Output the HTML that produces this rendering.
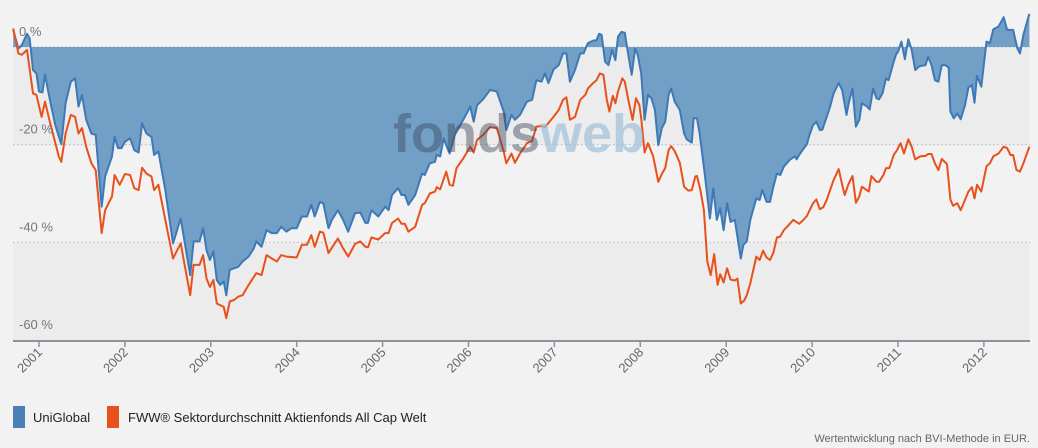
<!DOCTYPE html>
<html>
<head>
<meta charset="utf-8">
<style>
  html,body{margin:0;padding:0;background:#f2f2f2;}
  body{width:1038px;height:448px;overflow:hidden;font-family:"Liberation Sans",sans-serif;}
  svg{display:block;}
</style>
</head>
<body>
<svg id="chart" width="1038" height="448" viewBox="0 0 1038 448" xmlns="http://www.w3.org/2000/svg">
  <g id="bands">
    <rect x="13" y="47" width="1017" height="98" fill="#ececec"/>
    <rect x="13" y="145" width="1017" height="98" fill="#f2f2f2"/>
    <rect x="13" y="243" width="1017" height="97" fill="#ececec"/>
  </g>
  <g id="grid"></g>
  <g id="series"></g>
  <g id="watermark">
    <text x="393" y="152" font-family="Liberation Sans, sans-serif" font-weight="bold" font-size="54"><tspan fill="rgba(60,72,92,0.45)">fonds</tspan><tspan fill="rgba(160,192,220,0.7)">web</tspan></text>
  </g>
  <g id="yLabels"></g>
  <g id="xAxis"></g>
  <g id="legend">
    <rect x="13" y="406" width="12" height="22" fill="#4a7fb8"/>
    <text x="33" y="422" font-size="13" fill="#222">UniGlobal</text>
    <rect x="107" y="406" width="12" height="22" fill="#e8501c"/>
    <text x="128" y="422" font-size="13" fill="#222">FWW® Sektordurchschnitt Aktienfonds All Cap Welt</text>
  </g>
  <text x="1030" y="442" text-anchor="end" font-size="11" fill="#666">Wertentwicklung nach BVI-Methode in EUR.</text>
</svg>
<script>
const yTicks = [0, -20, -40, -60];
const yTickLabels = ["0 %", "-20 %", "-40 %", "-60 %"];
const xTickYears = [2001,2002,2003,2004,2005,2006,2007,2008,2009,2010,2011,2012];

const uniDates = [2000.70,2000.76,2000.80,2000.86,2000.89,2000.93,2000.97,2001.00,2001.04,2001.07,2001.12,2001.19,2001.26,2001.31,2001.37,2001.42,2001.46,2001.50,2001.55,2001.61,2001.66,2001.73,2001.77,2001.85,2001.88,2001.92,2001.96,2002.00,2002.06,2002.11,2002.16,2002.20,2002.25,2002.31,2002.34,2002.39,2002.47,2002.56,2002.65,2002.76,2002.80,2002.87,2002.91,2002.95,2002.99,2003.03,2003.07,2003.11,2003.15,2003.18,2003.22,2003.27,2003.32,2003.37,2003.44,2003.50,2003.53,2003.59,2003.65,2003.71,2003.77,2003.82,2003.88,2003.94,2004.00,2004.06,2004.12,2004.17,2004.21,2004.27,2004.31,2004.37,2004.41,2004.48,2004.54,2004.60,
2004.68,2004.74,2004.80,2004.83,2004.87,2004.95,2005.03,2005.07,2005.11,2005.18,2005.22,2005.26,2005.30,2005.38,2005.46,2005.49,2005.55,2005.61,2005.63,2005.67,2005.71,2005.78,2005.84,2005.94,2006.02,2006.06,2006.10,2006.17,2006.25,2006.33,2006.41,2006.44,2006.50,2006.54,2006.60,2006.68,2006.74,2006.79,2006.85,2006.89,2006.93,2006.99,2007.05,2007.10,2007.14,2007.18,2007.24,2007.30,2007.34,2007.39,2007.45,2007.49,2007.52,2007.55,2007.59,2007.63,2007.67,2007.71,2007.74,2007.78,2007.82,2007.86,2007.90,2007.94,2007.97,2008.01,2008.05,2008.09,2008.13,2008.17,2008.21,2008.25,2008.29,2008.33,2008.36,2008.40,2008.46,
2008.51,2008.54,2008.60,2008.62,2008.66,2008.69,2008.75,2008.81,2008.85,2008.89,2008.93,2008.97,2009.01,2009.05,2009.10,2009.17,2009.20,2009.24,2009.28,2009.35,2009.39,2009.42,2009.47,2009.51,2009.55,2009.59,2009.63,2009.67,2009.74,2009.80,2009.82,2009.86,2009.94,2009.97,2010.01,2010.05,2010.09,2010.12,2010.17,2010.21,2010.25,2010.31,2010.35,2010.40,2010.43,2010.47,2010.51,2010.55,2010.58,2010.64,2010.67,2010.71,2010.75,2010.78,2010.82,2010.86,2010.89,2010.95,2010.98,2011.00,2011.04,2011.08,2011.12,2011.16,2011.20,2011.25,2011.32,2011.35,2011.39,2011.43,2011.47,2011.51,2011.55,2011.59,2011.61,2011.65,2011.69,2011.73,2011.78,2011.82,2011.86,2011.89,2011.92,2011.97,2012.03,2012.07,2012.11,2012.17,2012.23,2012.27,2012.34,2012.39,2012.42,2012.46,2012.53];
const uniValues = [3.5,-0.3,0.4,2.7,1.8,-4.7,-5.4,-9.1,-9.3,-5.7,-10.2,-16.0,-19.9,-11.5,-7.1,-6.4,-12.2,-9.8,-14.9,-17.7,-18.0,-32.7,-26.5,-22.4,-18.4,-20.7,-20.7,-19.4,-18.7,-21.1,-21.6,-15.6,-17.7,-18.4,-22.1,-21.4,-29.3,-40.2,-35.1,-46.7,-39.8,-39.8,-37.1,-41.6,-43.6,-41.9,-47.7,-48.7,-48.0,-50.8,-45.6,-45.3,-45.0,-43.9,-42.9,-41.2,-39.8,-40.9,-37.5,-38.1,-38.1,-36.8,-37.8,-37.1,-37.1,-34.7,-34.7,-32.3,-34.7,-31.7,-32.0,-37.1,-35.4,-33.4,-35.4,-37.8,
-34.0,-33.9,-36.0,-36.0,-33.4,-34.7,-32.7,-33.4,-30.3,-28.9,-30.3,-30.3,-32.3,-30.3,-25.9,-26.2,-23.8,-23.5,-22.1,-22.4,-18.7,-21.8,-18.0,-14.9,-12.2,-15.3,-11.9,-10.7,-8.8,-9.1,-13.2,-17.0,-13.9,-14.9,-13.9,-11.2,-10.8,-6.8,-7.1,-5.4,-7.4,-4.6,-3.7,-1.3,-1.3,-7.1,-4.7,-1.3,-1.3,0.8,1.3,1.4,2.7,2.5,-3.0,-3.7,-0.6,-2.7,2.1,3.1,2.9,-1.6,-5.7,-0.3,-1.6,-5.4,-14.9,-9.8,-10.5,-12.9,-20.1,-16.6,-15.3,-9.8,-8.5,-11.2,-12.9,
-17.7,-18.9,-19.6,-14.6,-14.6,-17.7,-25.9,-35.1,-28.9,-35.4,-33.0,-37.5,-32.0,-35.8,-35.4,-43.3,-40.5,-39.8,-35.4,-31.0,-31.3,-29.3,-31.7,-31.7,-28.6,-25.9,-26.2,-24.5,-23.1,-22.4,-23.0,-21.8,-19.9,-18.0,-16.0,-15.3,-17.0,-16.9,-14.3,-12.2,-9.5,-7.4,-8.8,-13.9,-11.2,-8.5,-16.3,-14.9,-11.5,-12.2,-12.8,-8.5,-10.5,-10.7,-9.5,-6.4,-6.8,-3.0,-1.4,-1.0,1.1,-2.5,1.6,-0.6,-4.7,-3.9,-3.7,-2.0,-3.7,-6.8,-7.1,-3.7,-3.7,-4.2,-13.2,-14.6,-13.6,-14.8,-11.9,-8.3,-7.8,-11.4,-5.9,-8.1,1.1,0.8,3.6,4.2,6.1,3.5,3.5,-0.3,-1.3,2.5,6.8];

const sectorDates = [2000.70,2000.76,2000.80,2000.86,2000.93,2000.97,2001.03,2001.07,2001.13,2001.23,2001.26,2001.31,2001.37,2001.42,2001.46,2001.50,2001.55,2001.61,2001.66,2001.73,2001.77,2001.85,2001.88,2001.94,2002.00,2002.06,2002.11,2002.16,2002.20,2002.25,2002.31,2002.34,2002.39,2002.47,2002.56,2002.65,2002.76,2002.80,2002.87,2002.91,2002.95,2002.99,2003.03,2003.07,2003.15,2003.18,2003.22,2003.27,2003.32,2003.37,2003.44,2003.53,2003.59,2003.65,2003.71,2003.77,2003.82,2003.88,2004.00,2004.06,2004.12,2004.17,2004.21,2004.27,2004.31,2004.37,2004.48,2004.54,2004.60,
2004.68,2004.74,2004.80,2004.83,2004.87,2004.95,2005.03,2005.07,2005.11,2005.18,2005.22,2005.26,2005.30,2005.38,2005.46,2005.49,2005.55,2005.61,2005.63,2005.67,2005.74,2005.78,2005.82,2005.86,2005.94,2006.02,2006.06,2006.10,2006.17,2006.25,2006.33,2006.41,2006.44,2006.50,2006.54,2006.60,2006.68,2006.74,2006.79,2006.85,2006.89,2006.99,2007.05,2007.10,2007.14,2007.18,2007.24,2007.30,2007.36,2007.39,2007.45,2007.49,2007.53,2007.57,2007.61,2007.64,2007.68,2007.71,2007.74,2007.79,2007.82,2007.86,2007.91,2007.95,2007.99,2008.01,2008.05,2008.09,2008.15,2008.21,2008.25,2008.29,2008.33,2008.36,2008.40,2008.46,
2008.51,2008.56,2008.60,2008.64,2008.66,2008.70,2008.74,2008.78,2008.82,2008.86,2008.90,2008.93,2008.97,2009.01,2009.05,2009.10,2009.13,2009.17,2009.21,2009.24,2009.28,2009.35,2009.39,2009.43,2009.47,2009.51,2009.55,2009.59,2009.63,2009.67,2009.72,2009.78,2009.85,2009.90,2009.94,2009.97,2010.01,2010.05,2010.09,2010.13,2010.17,2010.21,2010.25,2010.31,2010.35,2010.38,2010.42,2010.47,2010.51,2010.55,2010.58,2010.66,2010.69,2010.75,2010.78,2010.83,2010.86,2010.90,2010.95,2010.99,2011.03,2011.07,2011.12,2011.16,2011.20,2011.26,2011.32,2011.35,2011.39,2011.43,2011.47,2011.51,2011.57,2011.61,2011.64,2011.69,2011.73,2011.78,2011.82,2011.86,2011.89,2011.92,2011.97,2012.03,2012.07,2012.11,2012.17,2012.23,2012.27,2012.31,2012.34,2012.38,2012.42,2012.46,2012.53];
const sectorValues = [3.8,-1.3,-1.6,-0.6,-9.5,-9.8,-14.3,-11.2,-15.6,-22.4,-23.5,-17.7,-13.9,-14.3,-17.7,-16.6,-20.4,-23.8,-25.2,-38.1,-33.4,-30.6,-26.2,-28.2,-26.0,-26.2,-28.9,-29.3,-24.7,-25.9,-26.5,-29.3,-28.2,-35.4,-43.3,-40.2,-50.8,-44.6,-44.6,-42.6,-47.4,-49.1,-47.7,-52.5,-53.2,-55.5,-52.1,-51.8,-51.1,-50.8,-48.7,-46.3,-46.7,-42.6,-43.3,-43.9,-42.6,-42.9,-43.1,-40.5,-40.5,-38.5,-40.9,-37.8,-38.0,-42.2,-39.2,-41.2,-42.9,
-40.3,-39.8,-40.9,-41.0,-39.0,-39.4,-38.1,-38.1,-36.0,-35.1,-36.2,-36.2,-37.8,-36.8,-32.3,-32.0,-30.0,-29.6,-28.7,-29.1,-25.5,-28.2,-28.4,-24.8,-22.8,-20.4,-21.6,-19.0,-18.0,-16.4,-16.6,-21.4,-23.8,-21.8,-23.7,-21.8,-19.7,-19.2,-16.3,-16.2,-16.4,-14.3,-12.9,-10.8,-10.3,-14.9,-14.3,-10.8,-9.8,-8.5,-7.4,-6.8,-5.4,-5.7,-10.8,-13.2,-10.0,-11.5,-9.1,-6.4,-7.1,-10.8,-14.9,-10.5,-11.9,-14.6,-21.6,-19.7,-22.4,-27.6,-26.0,-24.8,-21.1,-20.3,-21.3,-23.7,
-28.6,-29.4,-29.3,-26.5,-26.4,-29.3,-33.4,-43.9,-46.7,-42.4,-48.7,-46.5,-48.2,-45.3,-47.6,-47.8,-47.4,-52.5,-51.9,-50.8,-48.4,-42.9,-43.6,-41.7,-43.1,-43.6,-42.1,-39.0,-38.8,-37.5,-36.6,-35.4,-36.2,-35.4,-34.6,-33.5,-32.0,-31.2,-33.2,-32.8,-31.3,-29.3,-27.2,-25.0,-28.2,-30.3,-28.2,-26.4,-31.9,-30.6,-28.6,-29.6,-26.4,-27.6,-27.6,-26.2,-24.8,-24.8,-22.1,-21.1,-19.7,-21.8,-18.9,-20.4,-23.0,-22.4,-22.3,-21.9,-21.9,-23.8,-25.2,-22.9,-24.0,-31.2,-32.5,-32.0,-33.4,-31.3,-29.6,-28.7,-31.0,-28.2,-29.6,-24.4,-23.8,-22.4,-21.8,-20.4,-20.7,-22.1,-22.1,-25.2,-25.5,-23.8,-20.4];

const NS = "http://www.w3.org/2000/svg";
function xScale(t){ return 39 + (t - 2001) * 85.9; }
function yScale(v){ return 47 - v * 4.885; }
function mk(tag, attrs){ const e=document.createElementNS(NS,tag); for(const k in attrs) e.setAttribute(k, attrs[k]); return e; }

const grid = document.getElementById('grid');
const yLab = document.getElementById('yLabels');
yTicks.forEach((v,i)=>{
  const y = yScale(v);
  if (v > -60) {
    const ln = mk('line',{x1:13,x2:1030,y1:y,y2:y,stroke:'#b5b5b5','stroke-width':1,'stroke-dasharray':'1.5,2.5'});
    
    
    grid.appendChild(ln);
  }
  const t = mk('text',{x:19,y:y-11,'font-size':13,fill:'#777'});
  t.textContent = yTickLabels[i];
  
  
  yLab.appendChild(t);
});

const series = document.getElementById('series');
const y0 = yScale(0);
let uniPts = uniDates.map((d,i)=> xScale(d).toFixed(1)+','+yScale(uniValues[i]).toFixed(1));
const area = mk('polygon',{points: xScale(uniDates[0]).toFixed(1)+','+y0+' '+uniPts.join(' ')+' '+xScale(uniDates[uniDates.length-1]).toFixed(1)+','+y0, fill:'#729fc6'});


series.appendChild(area);
const uniLine = mk('polyline',{points: uniPts.join(' '), fill:'none', stroke:'#3d79b6','stroke-width':2,'stroke-linejoin':'round'});


series.appendChild(uniLine);
const secPts = sectorDates.map((d,i)=> xScale(d).toFixed(1)+','+yScale(sectorValues[i]).toFixed(1));
const secLine = mk('polyline',{points: secPts.join(' '), fill:'none', stroke:'#e8501c','stroke-width':2,'stroke-linejoin':'round'});


series.appendChild(secLine);

const xAxis = document.getElementById('xAxis');
const axisLine = mk('line',{x1:13,x2:1030,y1:341,y2:341,stroke:'#8c939c','stroke-width':2});


xAxis.appendChild(axisLine);
xTickYears.forEach(yr=>{
  const x = xScale(yr);
  const tk = mk('line',{x1:x,x2:x,y1:341,y2:347,stroke:'#8c939c','stroke-width':1.5});
  
  
  xAxis.appendChild(tk);
  const t = mk('text',{x:x+4,y:353,'font-size':13,fill:'#666','text-anchor':'end',transform:'rotate(-45 '+(x+4)+' 353)'});
  t.textContent = String(yr);
  
  
  xAxis.appendChild(t);
});
</script>
</body>
</html>
